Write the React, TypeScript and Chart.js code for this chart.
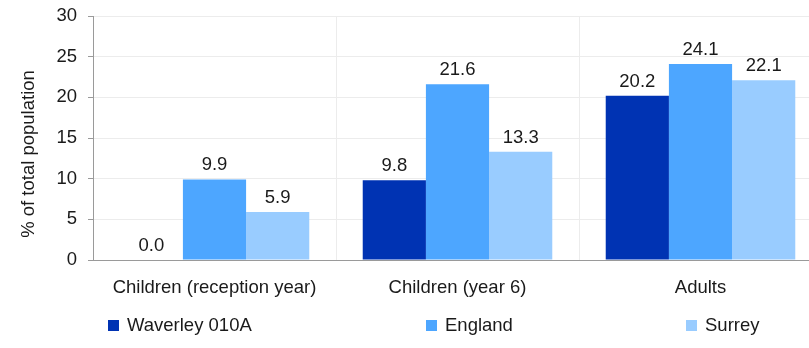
import React, { useEffect, useRef } from "react";
import { Chart, registerables } from "chart.js";

Chart.register(...registerables);

const categories = ["Children (reception year)", "Children (year 6)", "Adults"];
const seriesNames = ["Waverley 010A", "England", "Surrey"];
const waverley = [0.0, 9.8, 20.2];
const england = [9.9, 21.6, 24.1];
const surrey = [5.9, 13.3, 22.1];
const seriesColors = ["#0033b3", "#4da6ff", "#99ccff"];
const yTicks = [0, 5, 10, 15, 20, 25, 30];
const yTitle = "% of total population";

const FONT = "'Liberation Sans', Arial, sans-serif";
const FS = 18.5;

const labelPlugin = {
  id: "barLabels",
  afterDatasetsDraw(chart: any) {
    const ctx = chart.ctx;
    ctx.save();
    ctx.font = `${FS}px ${FONT}`;
    ctx.fillStyle = "#1a1a1a";
    ctx.textAlign = "center";
    ctx.textBaseline = "alphabetic";
    chart.data.datasets.forEach((ds: any, i: number) => {
      const meta = chart.getDatasetMeta(i);
      meta.data.forEach((bar: any, j: number) => {
        const v = ds.data[j] as number;
        ctx.fillText(v.toFixed(1), bar.x, bar.y - 9);
      });
    });
    // y-axis title
    ctx.translate(29, 154);
    ctx.rotate(-Math.PI / 2);
    ctx.textBaseline = "middle";
    ctx.fillText(yTitle, 0, 0);
    ctx.restore();
  },
};

export default function App() {
  const ref = useRef<HTMLCanvasElement>(null);
  useEffect(() => {
    if (!ref.current) return;
    const data = [waverley, england, surrey];
    const chart = new Chart(ref.current, {
      type: "bar",
      data: {
        labels: categories,
        datasets: seriesNames.map((name, i) => ({
          label: name,
          data: data[i],
          backgroundColor: seriesColors[i],
          borderWidth: 0,
          categoryPercentage: 0.78,
          barPercentage: 1,
        })),
      },
      options: {
        animation: false,
        responsive: false,
        maintainAspectRatio: false,
        layout: { padding: { top: 16, left: 0, right: 0, bottom: 0 } },
        plugins: {
          legend: { display: false },
          tooltip: { enabled: false },
        },
        scales: {
          x: {
            grid: { color: "#ececec", lineWidth: 1, offset: true, drawTicks: false },
            border: { color: "#9a9a9a", width: 1 },
            ticks: { color: "#1a1a1a", font: { size: FS, family: FONT }, padding: 17 },
            afterFit: (s: any) => {
              s.height = 88;
              s.paddingLeft = 0;
              s.paddingRight = 0;
            },
          },
          y: {
            min: 0,
            max: 30,
            afterBuildTicks: (s: any) => {
              s.ticks = yTicks.map((v) => ({ value: v }));
            },
            grid: { color: "#ececec", lineWidth: 1, tickLength: 5, tickColor: "#9a9a9a" },
            border: { color: "#9a9a9a", width: 1 },
            ticks: { color: "#1a1a1a", font: { size: FS, family: FONT }, padding: 11 },
            afterFit: (s: any) => {
              s.width = 93;
              s.paddingTop = 0;
              s.paddingBottom = 0;
            },
          },
        },
      },
      plugins: [labelPlugin],
    });
    return () => chart.destroy();
  }, []);

  const legendLeft = [108, 426, 686];
  return (
    <div style={{ position: "fixed", left: 0, top: 0, width: 809, height: 348, overflow: "hidden", background: "#fff" }}>
      <canvas ref={ref} width={822} height={348} style={{ position: "absolute", left: 0, top: 0, width: 822, height: 348 }} />
      {seriesNames.map((name, i) => (
        <div
          key={name}
          style={{
            position: "absolute",
            left: legendLeft[i],
            top: 314,
            height: 22,
            display: "flex",
            alignItems: "center",
            fontFamily: FONT,
            fontSize: FS,
            lineHeight: "22px",
            color: "#1a1a1a",
            whiteSpace: "nowrap",
          }}
        >
          <span style={{ display: "inline-block", width: 11, height: 11, background: seriesColors[i], marginRight: 8 }} />
          <span>{name}</span>
        </div>
      ))}
    </div>
  );
}
